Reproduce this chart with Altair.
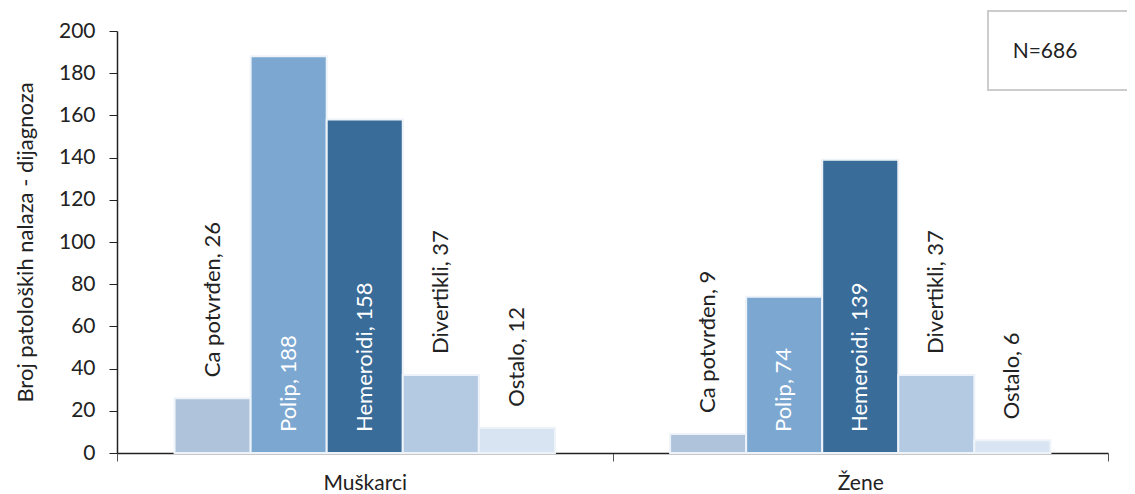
import altair as alt
import pandas as pd

groups = ["Muškarci", "Žene"]
categories = ["Ca potvrđen", "Polip", "Hemeroidi", "Divertikli", "Ostalo"]
men_values = [26, 188, 158, 37, 12]
women_values = [9, 74, 139, 37, 6]
inside_label = ["Polip", "Hemeroidi"]
colors = ["#afc3db", "#7ca7d1", "#3a6c99", "#b4cae3", "#d8e4f1"]
y_ticks = list(range(0, 201, 20))
y_title = "Broj patoloških nalaza - dijagnoza"
n_total = [686]

rows = []
for g, vals in zip(groups, [men_values, women_values]):
    for c, v in zip(categories, vals):
        rows.append({"group": g, "category": c, "value": v, "inside": c in inside_label})
df = pd.DataFrame(rows)

FONT = "Lato"
TXT = "#222222"

x_enc = alt.X(
    "group:N", sort=groups,
    scale=alt.Scale(paddingInner=0, paddingOuter=0),
    axis=alt.Axis(title=None, labelAngle=0, tickBand="extent", tickSize=8,
                  tickColor="#555555", domainColor="#222222", domainWidth=1.5,
                  labelFontSize=21, labelFont=FONT, labelColor=TXT, labelPadding=11),
)
xo_enc = alt.XOffset("category:N", sort=categories,
                     scale=alt.Scale(paddingOuter=0.757, paddingInner=0))
y_axis = alt.Axis(values=y_ticks, grid=False, tickSize=8, tickColor="#222222",
                  domainColor="#222222", domainWidth=1.5,
                  labelFontSize=21, labelFont=FONT, labelColor=TXT, labelPadding=14,
                  title=y_title, titleFontSize=22, titleFont=FONT, titleColor=TXT,
                  titleFontWeight="normal", titlePadding=21)
y_scale = alt.Scale(domain=[0, 200], nice=False)

base = alt.Chart(df)

bars = base.mark_bar(stroke="#eef3f9", strokeWidth=2).encode(
    x=x_enc, xOffset=xo_enc,
    y=alt.Y("value:Q", scale=y_scale, axis=y_axis),
    color=alt.Color("category:N", scale=alt.Scale(domain=categories, range=colors), legend=None),
)

labels = base.transform_calculate(
    label="datum.category + ', ' + datum.value",
    ly="datum.inside ? 0 : datum.value",
).mark_text(angle=270, align="left", baseline="middle", dx=21, fontSize=22, font=FONT).encode(
    x=x_enc, xOffset=xo_enc,
    y=alt.Y("ly:Q", scale=y_scale, axis=y_axis),
    text="label:N",
    color=alt.condition("datum.inside", alt.value("white"), alt.value(TXT)),
)

ndf = pd.DataFrame({"n": n_total})
box_style = dict(color="#cccccc", strokeWidth=2)
box_top = alt.Chart(ndf).mark_rule(**box_style).encode(
    x=alt.value(871), x2=alt.value(1030), y=alt.value(-20))
box_bottom = alt.Chart(ndf).mark_rule(**box_style).encode(
    x=alt.value(871), x2=alt.value(1030), y=alt.value(59))
box_left = alt.Chart(ndf).mark_rule(**box_style).encode(
    x=alt.value(871), y=alt.value(-21), y2=alt.value(60))
box_text = alt.Chart(ndf).transform_calculate(t="'N=' + datum.n").mark_text(
    fontSize=21, font=FONT, color=TXT, align="center", baseline="middle"
).encode(x=alt.value(928), y=alt.value(21), text="t:N")

chart = alt.layer(bars, labels, box_top, box_bottom, box_left, box_text).properties(
    width=991, height=422,
    autosize=alt.AutoSizeParams(type="none"),
    padding={"left": 109, "top": 23, "right": 19, "bottom": 41},
).configure_view(stroke=None)

chart.save("out.html", embed_options={"renderer": "svg", "actions": False})
